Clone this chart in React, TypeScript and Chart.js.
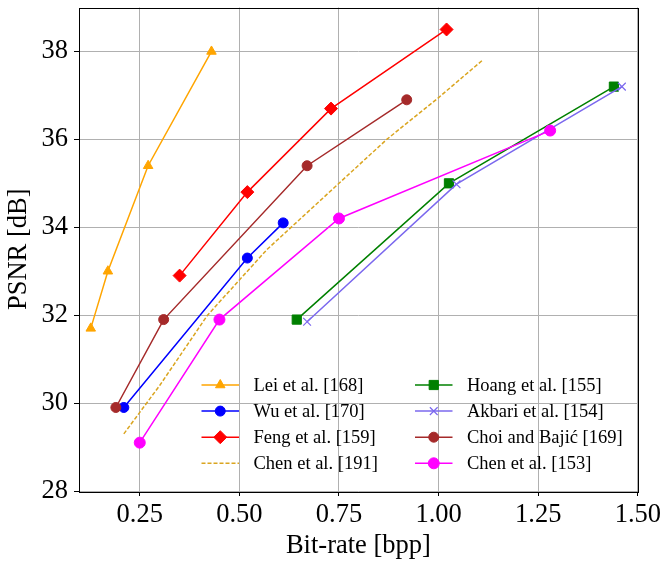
import React, { useEffect, useRef } from 'react';
import { Chart, registerables } from 'chart.js';
import { drawPoint } from 'chart.js/helpers';

Chart.register(...registerables);

// ---- data ----
const leiX = [0.127, 0.17, 0.271, 0.43];
const leiY = [31.7, 33.0, 35.4, 38.0];
const wuX = [0.21, 0.52, 0.61];
const wuY = [29.9, 33.3, 34.1];
const fengX = [0.35, 0.52, 0.73, 1.02];
const fengY = [32.9, 34.8, 36.7, 38.5];
const chen191X = [0.21, 0.3, 0.42, 0.57, 0.75, 0.87, 1.0, 1.11];
const chen191Y = [29.3, 30.4, 32.0, 33.5, 35.0, 36.0, 36.95, 37.8];
const hoangX = [0.644, 1.026, 1.44];
const hoangY = [31.9, 35.0, 37.2];
const akbariX = [0.67, 1.045, 1.46];
const akbariY = [31.85, 34.98, 37.2];
const choiX = [0.19, 0.31, 0.67, 0.92];
const choiY = [29.9, 31.9, 35.4, 36.9];
const chen153X = [0.25, 0.45, 0.75, 1.28];
const chen153Y = [29.1, 31.9, 34.2, 36.2];

const seriesLabels = [
  'Lei et al. [168]',
  'Wu et al. [170]',
  'Feng et al. [159]',
  'Chen et al. [191]',
  'Hoang et al. [155]',
  'Akbari et al. [154]',
  'Choi and Bajić [169]',
  'Chen et al. [153]',
];

const xTicks = [0.25, 0.5, 0.75, 1.0, 1.25, 1.5];
const yTicks = [28, 30, 32, 34, 36, 38];
const xTitle = 'Bit-rate [bpp]';
const yTitle = 'PSNR [dB]';

const FONT = '"Liberation Serif", "Times New Roman", serif';
const AXIS_FONT_SIZE = 26.5;

const toPts = (xs: number[], ys: number[]) => xs.map((x, i) => ({ x, y: ys[i] }));

type Style = { color: string; pointStyle: any; radius: number; dash?: number[]; bw?: number };
const styles: Style[] = [
  { color: '#FFA500', pointStyle: 'triangle', radius: 5.5 },
  { color: '#0000FF', pointStyle: 'circle', radius: 5 },
  { color: '#FF0000', pointStyle: 'rectRot', radius: 6.5 },
  { color: '#DAA520', pointStyle: false, radius: 0, dash: [4, 2] },
  { color: '#008000', pointStyle: 'rect', radius: 6.5 },
  { color: '#7B68EE', pointStyle: 'crossRot', radius: 5.5, bw: 1.2 },
  { color: '#A52A2A', pointStyle: 'circle', radius: 5 },
  { color: '#FF00FF', pointStyle: 'circle', radius: 5.5 },
];

const dataPairs: [number[], number[]][] = [
  [leiX, leiY],
  [wuX, wuY],
  [fengX, fengY],
  [chen191X, chen191Y],
  [hoangX, hoangY],
  [akbariX, akbariY],
  [choiX, choiY],
  [chen153X, chen153Y],
];

const legendPlugin = {
  id: 'customLegend',
  afterDraw(chart: any) {
    const ctx = chart.ctx;
    ctx.save();
    ctx.font = `18.5px ${FONT}`;
    ctx.textBaseline = 'middle';
    ctx.textAlign = 'left';
    seriesLabels.forEach((label, i) => {
      const st = styles[i];
      const col = i < 4 ? 0 : 1;
      const row = i % 4;
      const x0 = col === 0 ? 201.5 : 415;
      const y = 385 + row * 26.1;
      ctx.strokeStyle = st.color;
      ctx.lineWidth = 1.5;
      ctx.setLineDash(st.dash || []);
      ctx.beginPath();
      ctx.moveTo(x0, y);
      ctx.lineTo(x0 + 37.5, y);
      ctx.stroke();
      ctx.setLineDash([]);
      if (st.pointStyle) {
        ctx.fillStyle = st.color;
        ctx.strokeStyle = st.color;
        ctx.lineWidth = st.bw || 1;
        drawPoint(ctx, { pointStyle: st.pointStyle, radius: st.radius, rotation: 0, borderWidth: st.bw || 1 }, x0 + 18.75, y);
      }
      ctx.fillStyle = '#000';
      ctx.fillText(label, x0 + 52, y + 1);
    });
    ctx.restore();
  },
};

const framePlugin = {
  id: 'frame',
  afterDatasetsDraw(chart: any) {
    const { left, top, right, bottom } = chart.chartArea;
    const ctx = chart.ctx;
    ctx.save();
    ctx.strokeStyle = '#000';
    ctx.lineWidth = 1;
    ctx.strokeRect(Math.round(left) + 0.5, Math.round(top) + 0.5, Math.round(right - left), Math.round(bottom - top));
    ctx.restore();
  },
};

export default function App() {
  const ref = useRef<HTMLCanvasElement>(null);
  useEffect(() => {
    if (!ref.current) return;
    const datasets = dataPairs.map(([xs, ys], i) => {
      const st = styles[i];
      return {
        label: seriesLabels[i],
        data: toPts(xs, ys),
        borderColor: st.color,
        backgroundColor: st.color,
        borderWidth: 1.5,
        borderDash: st.dash || [],
        pointStyle: st.pointStyle,
        pointRadius: st.radius,
        pointBorderWidth: st.bw || 1,
        pointBorderColor: st.color,
        pointBackgroundColor: st.color,
        tension: 0,
        showLine: true,
        order: dataPairs.length - i,
      };
    });
    const chart = new Chart(ref.current, {
      type: 'scatter',
      data: { datasets },
      plugins: [framePlugin, legendPlugin],
      options: {
        animation: false,
        responsive: true,
        maintainAspectRatio: false,
        layout: { padding: { left: 0, right: 25, top: 7, bottom: 0 } },
        plugins: { legend: { display: false }, tooltip: { enabled: false } },
        scales: {
          x: {
            type: 'linear',
            min: 0.0975,
            max: 1.5,
            afterBuildTicks: (s: any) => { s.ticks = xTicks.map((v) => ({ value: v })); },
            afterFit: (s: any) => { s.height = 70; },
            ticks: {
              color: '#000',
              font: { family: FONT, size: AXIS_FONT_SIZE },
              padding: 3,
              maxRotation: 0,
              callback: (v: any) => Number(v).toFixed(2),
            },
            grid: { color: '#b0b0b0', lineWidth: 1, tickLength: 5, tickColor: '#000' },
            border: { display: false },
            title: { display: true, text: xTitle, color: '#000', font: { family: FONT, size: AXIS_FONT_SIZE, lineHeight: 1.0 }, padding: { top: 0, bottom: 2 } },
          },
          y: {
            type: 'linear',
            min: 28,
            max: 39,
            afterBuildTicks: (s: any) => { s.ticks = yTicks.map((v) => ({ value: v })); },
            afterFit: (s: any) => { s.width = 79; s.paddingTop = 0; s.paddingBottom = 0; },
            ticks: {
              color: '#000',
              font: { family: FONT, size: AXIS_FONT_SIZE },
              padding: 6,
              callback: (v: any) => String(v),
            },
            grid: { color: '#b0b0b0', lineWidth: 1, tickLength: 5, tickColor: '#000' },
            border: { display: false },
            title: { display: true, text: yTitle, color: '#000', font: { family: FONT, size: AXIS_FONT_SIZE, lineHeight: 1.0 }, padding: { top: 6, bottom: 0 } },
          },
        },
      } as any,
    });
    return () => chart.destroy();
  }, []);
  return (
    <div style={{ position: 'fixed', left: 0, top: 0, width: 664, height: 561, background: '#fff' }}>
      <canvas ref={ref} />
    </div>
  );
}
